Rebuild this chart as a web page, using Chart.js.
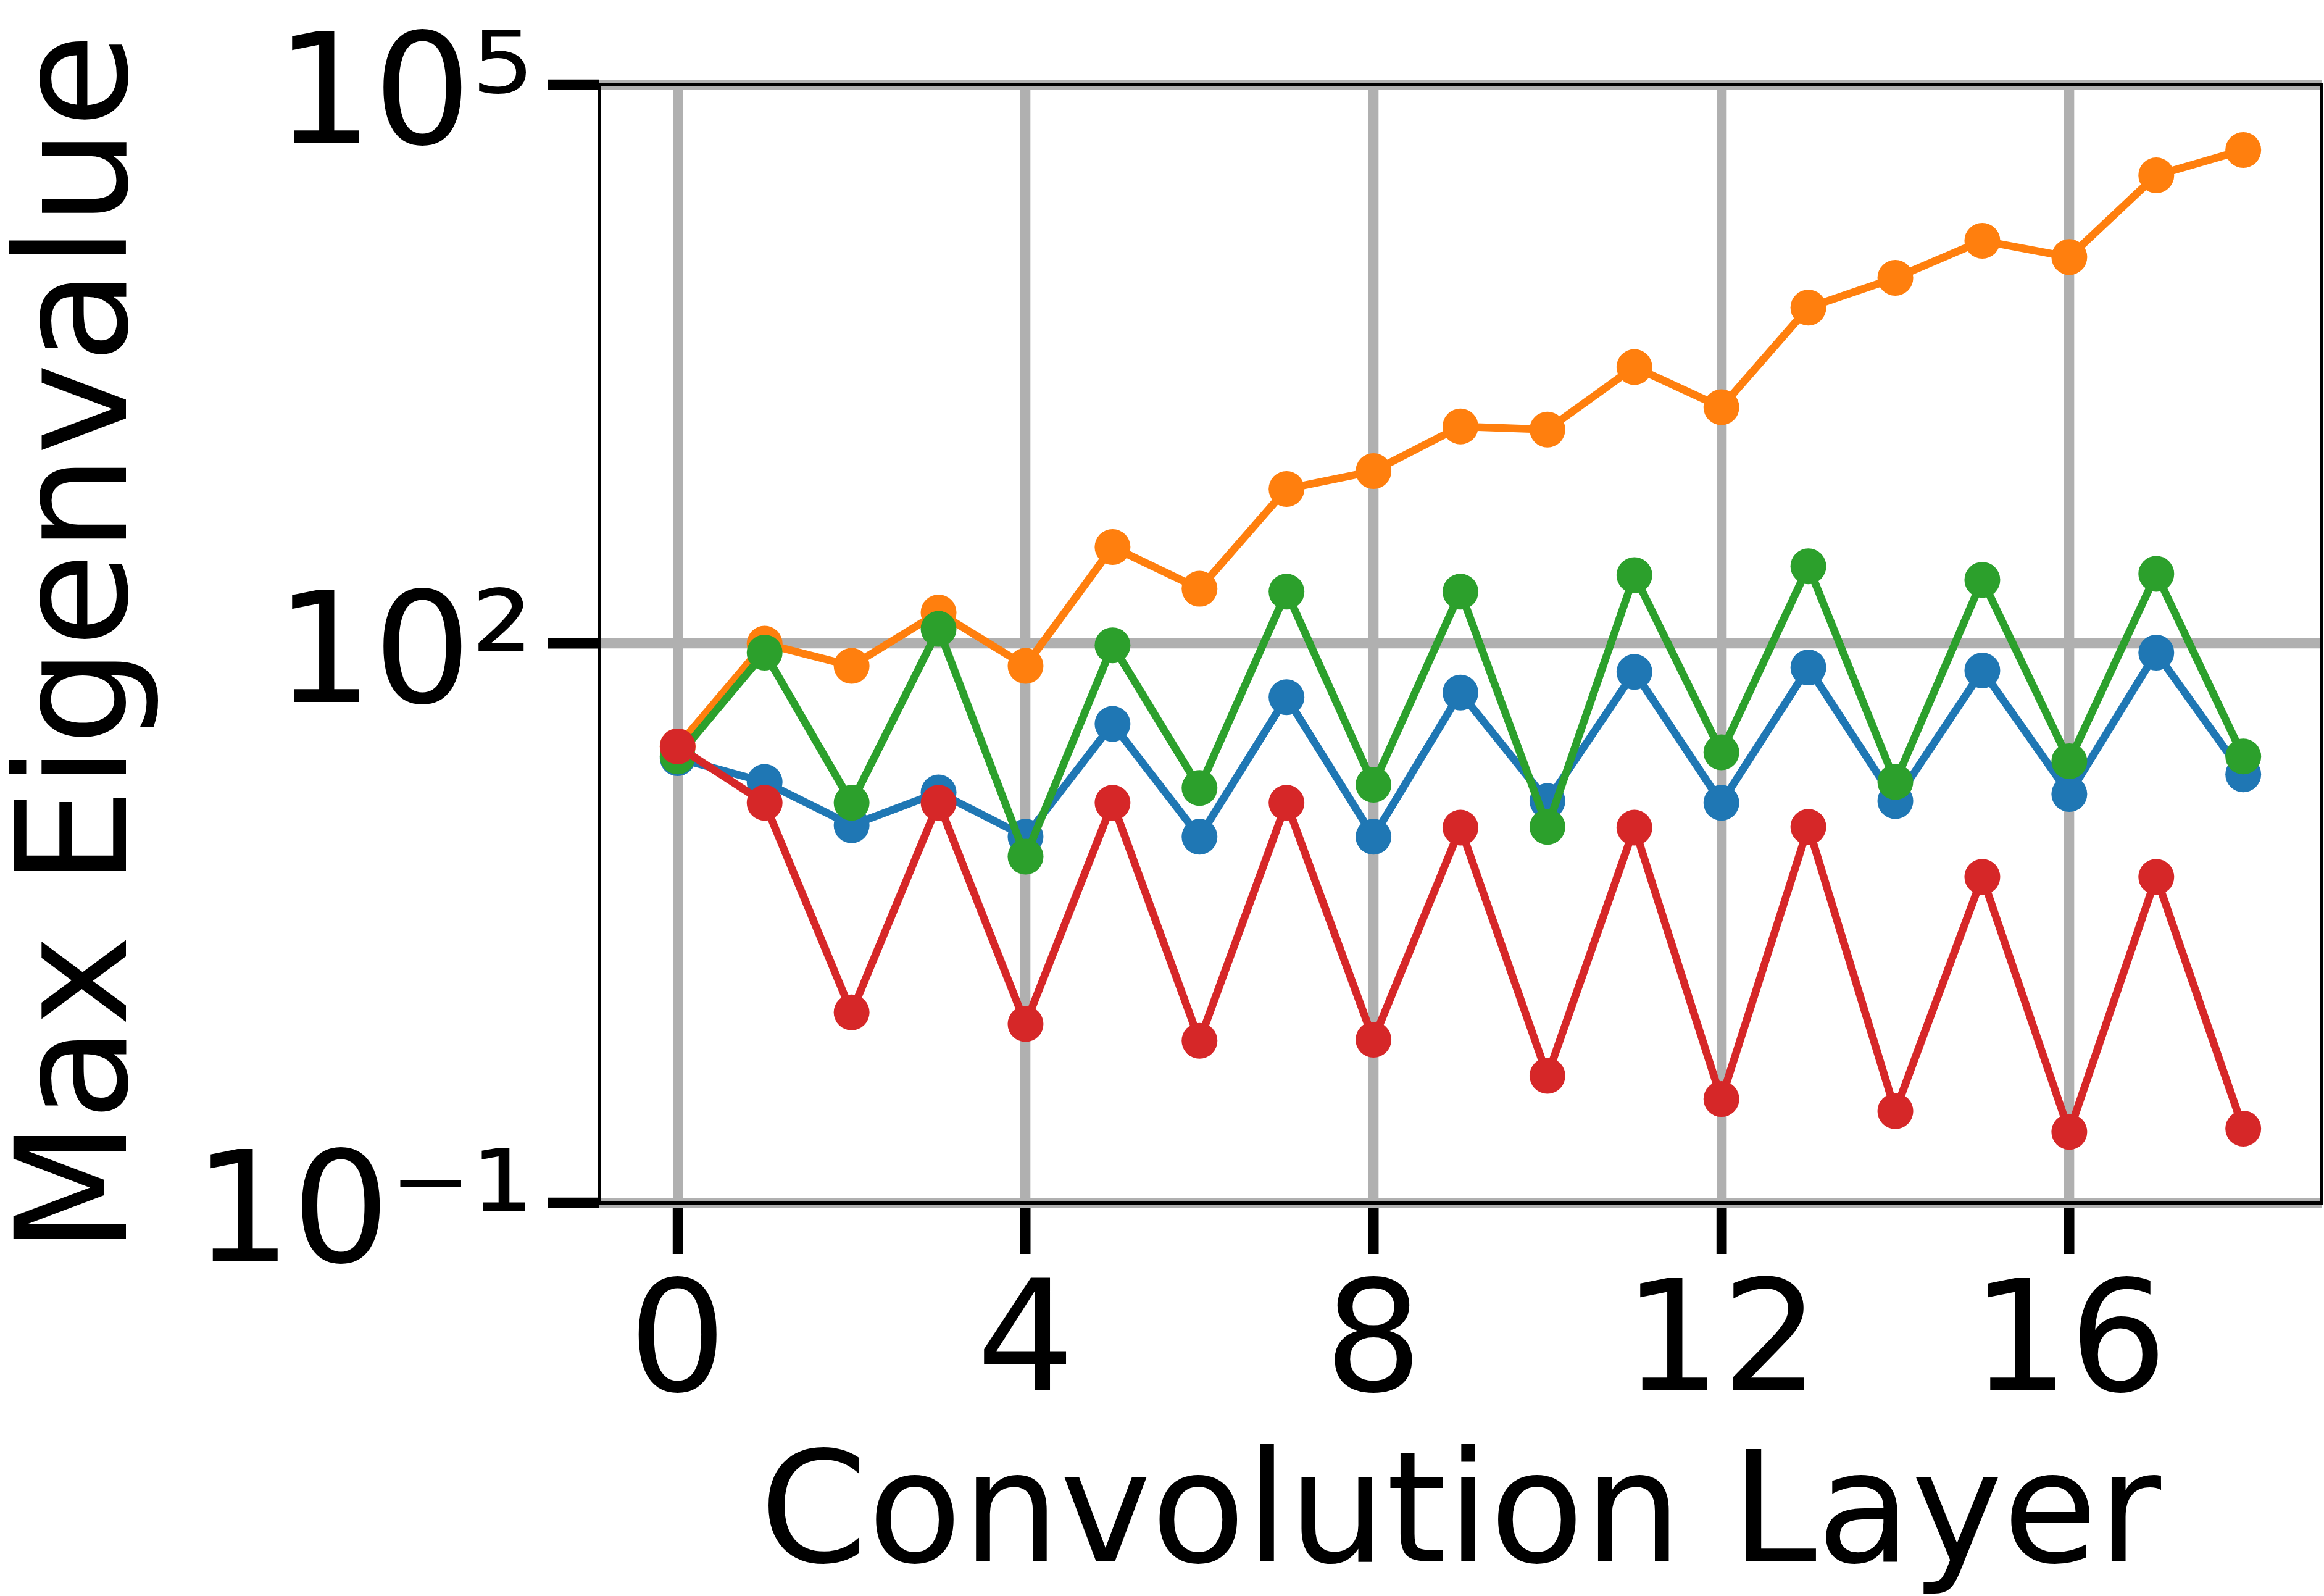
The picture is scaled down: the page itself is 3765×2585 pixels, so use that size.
<!DOCTYPE html>
<html>
<head>
<meta charset="utf-8">
<script src="https://cdn.jsdelivr.net/npm/chart.js@4"></script>
<style>
  html, body { margin: 0; padding: 0; background: #ffffff; overflow: hidden; }
  #wrap { width: 3765px; height: 2585px; overflow: hidden; }
</style>
</head>
<body>
<div id="wrap"><canvas id="c" width="3790" height="2585"></canvas></div>
<script>
// ---- data ----
const layers = [0, 1, 2, 3, 4, 5, 6, 7, 8, 9, 10, 11, 12, 13, 14, 15, 16, 17, 18];
const blueValues   = [24.3, 18.1, 10.6, 15.9, 9.2, 37.1, 9.2, 51.6, 9.2, 54.6, 14.3, 70.5, 14.0, 74.5, 14.3, 71.8, 15.6, 89.5, 19.9];
const orangeValues = [28.1, 100, 76, 147, 76, 330, 197, 676, 843, 1463, 1409, 3050, 1857, 6360, 9180, 14520, 11870, 32600, 44570];
const greenValues  = [24.8, 89.5, 14.0, 120, 7.2, 98, 16.8, 190, 17.5, 190, 10.4, 233, 26.1, 260, 18.1, 220, 23.4, 237, 24.8];
const redValues    = [28.1, 14.0, 1.05, 14.0, 0.91, 14.0, 0.74, 14.0, 0.75, 10.3, 0.48, 10.3, 0.36, 10.4, 0.31, 5.6, 0.24, 5.6, 0.25];
const xTickValues = [0, 4, 8, 12, 16];
const yTickValues = [0.1, 100, 100000];
const yTickLabels = ['10\u207B\u00B9', '10\u00B2', '10\u2075'];
const xTitle = 'Convolution Layer';
const yTitle = 'Max Eigenvalue';

const FONT = 'DejaVu Sans';
const FS = 250;

function pts(vals) { return layers.map((x, i) => ({ x: x, y: vals[i] })); }

function series(vals, color, order) {
  return {
    data: pts(vals),
    borderColor: color,
    backgroundColor: color,
    borderWidth: 12.5,
    pointRadius: 29,
    pointHoverRadius: 29,
    pointBorderWidth: 0,
    pointBackgroundColor: color,
    tension: 0,
    order: order
  };
}

const framePlugin = {
  id: 'frame',
  afterDatasetsDraw(chart) {
    const a = chart.chartArea;
    const ctx = chart.ctx;
    ctx.save();
    ctx.strokeStyle = '#000000';
    ctx.lineWidth = 6;
    ctx.strokeRect(a.left, a.top, a.right - a.left, a.bottom - a.top);
    ctx.restore();
  }
};

new Chart(document.getElementById('c'), {
  type: 'line',
  data: {
    datasets: [
      series(blueValues, '#1f77b4', 4),
      series(orangeValues, '#ff7f0e', 3),
      series(greenValues, '#2ca02c', 2),
      series(redValues, '#d62728', 1)
    ]
  },
  options: {
    responsive: false,
    devicePixelRatio: 1,
    animation: false,
    layout: { padding: { top: 137, right: 29, left: 0, bottom: 0 } },
    plugins: { legend: { display: false }, tooltip: { enabled: false } },
    scales: {
      x: {
        type: 'linear',
        min: -0.9,
        max: 18.9,
        afterBuildTicks: (s) => { s.ticks = xTickValues.map(v => ({ value: v })); },
        afterFit: (s) => { s.height = 2585 - 1948; s.paddingLeft = 0; s.paddingRight = 0; },
        ticks: {
          autoSkip: false, maxRotation: 0, minRotation: 0,
          color: '#000', padding: 31,
          font: { family: FONT, size: FS, lineHeight: 1 },
          callback: (v) => String(v)
        },
        grid: {
          color: '#b0b0b0', lineWidth: 16.3,
          drawTicks: true, tickLength: 83, tickWidth: 16.7, tickColor: '#000'
        },
        border: { display: false },
        title: {
          display: true, text: xTitle, color: '#000',
          font: { family: FONT, size: FS, lineHeight: 0.97 },
          padding: { top: 0, bottom: 0 }
        }
      },
      y: {
        type: 'logarithmic',
        min: 0.1,
        max: 100000,
        afterBuildTicks: (s) => { s.ticks = yTickValues.map(v => ({ value: v })); },
        afterFit: (s) => { s.width = 971; s.paddingTop = 0; s.paddingBottom = 0; },
        ticks: {
          autoSkip: false, color: '#000', padding: 24, labelOffset: 30,
          font: { family: FONT, size: FS, lineHeight: 1 },
          callback: (v) => { const i = yTickValues.indexOf(v); return i >= 0 ? yTickLabels[i] : ''; }
        },
        grid: {
          color: '#b0b0b0', lineWidth: 16.3,
          drawTicks: true, tickLength: 83, tickWidth: 16.7, tickColor: '#000'
        },
        border: { display: false },
        title: {
          display: true, text: yTitle, color: '#000',
          font: { family: FONT, size: FS, lineHeight: 1 },
          padding: { top: 14, bottom: 0 }
        }
      }
    }
  },
  plugins: [framePlugin]
});
</script>
</body>
</html>
